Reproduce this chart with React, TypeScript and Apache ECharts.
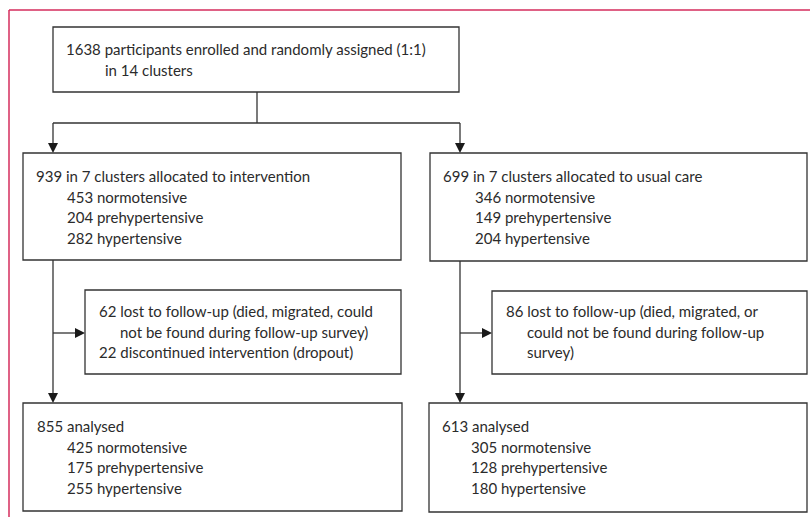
import React, { useEffect, useRef } from "react";
import * as echarts from "echarts";

// ---- Flowchart content ----
const enrolmentLines = ["1638 participants enrolled and randomly assigned (1:1)", "in 14 clusters"];
const interventionHead = "939 in 7 clusters allocated to intervention";
const interventionGroups = ["453 normotensive", "204 prehypertensive", "282 hypertensive"];
const usualCareHead = "699 in 7 clusters allocated to usual care";
const usualCareGroups = ["346 normotensive", "149 prehypertensive", "204 hypertensive"];
const interventionLost = ["62 lost to follow-up (died, migrated, could", "not be found during follow-up survey)", "22 discontinued intervention (dropout)"];
const interventionLostIndent = [false, true, false];
const usualCareLost = ["86 lost to follow-up (died, migrated, or", "could not be found during follow-up", "survey)"];
const usualCareLostIndent = [false, true, true];
const interventionAnalysedHead = "855 analysed";
const interventionAnalysedGroups = ["425 normotensive", "175 prehypertensive", "255 hypertensive"];
const usualCareAnalysedHead = "613 analysed";
const usualCareAnalysedGroups = ["305 normotensive", "128 prehypertensive", "180 hypertensive"];

const FONT = "Lato";
const FS = 15;
const TXT = "#2b2b2b";
const LINE = "#333333";
const FRAME = "#d42c5c";

function txt(text: string, x: number, y: number) {
  return {
    type: "text",
    style: { text, x, y, fill: TXT, fontSize: FS, fontFamily: FONT, verticalAlign: "middle", align: "left" },
  };
}
function box(x: number, y: number, w: number, h: number) {
  return {
    type: "rect",
    shape: { x, y, width: w, height: h },
    style: { fill: "#fff", stroke: LINE, lineWidth: 1.3 },
  };
}
function ln(x1: number, y1: number, x2: number, y2: number) {
  return { type: "line", shape: { x1, y1, x2, y2 }, style: { stroke: LINE, lineWidth: 1.3 } };
}
function arrowDown(x: number, tipY: number) {
  return {
    type: "polygon",
    shape: { points: [[x - 5, tipY - 10], [x + 5, tipY - 10], [x, tipY]] },
    style: { fill: "#1a1a1a" },
  };
}
function arrowRight(tipX: number, y: number) {
  return {
    type: "polygon",
    shape: { points: [[tipX - 10, y - 5], [tipX - 10, y + 5], [tipX, y]] },
    style: { fill: "#1a1a1a" },
  };
}

export default function App() {
  const ref = useRef<HTMLDivElement>(null);
  useEffect(() => {
    document.body.style.margin = "0";
    const chart = echarts.init(ref.current!, null, { renderer: "svg" });
    const LH = 20.6;
    const els: any[] = [];
    // frame
    els.push({ type: "line", shape: { x1: 9, y1: 10, x2: 810, y2: 10 }, style: { stroke: FRAME, lineWidth: 1.5 } });
    els.push({ type: "line", shape: { x1: 9, y1: 10, x2: 9, y2: 517 }, style: { stroke: FRAME, lineWidth: 1.5 } });

    // connectors
    els.push(ln(257, 92, 257, 123));
    els.push(ln(53, 123, 460, 123));
    els.push(ln(53, 123, 53, 145));
    els.push(ln(460, 123, 460, 145));
    els.push(arrowDown(53, 153));
    els.push(arrowDown(460, 153));
    els.push(ln(53, 260, 53, 395));
    els.push(arrowDown(53, 403));
    els.push(ln(460, 261, 460, 395));
    els.push(arrowDown(460, 403));
    els.push(ln(53, 333, 77, 333));
    els.push(arrowRight(85, 333));
    els.push(ln(460, 333, 484, 333));
    els.push(arrowRight(492, 333));

    // boxes
    els.push(box(53, 27, 406, 65));
    els.push(box(23, 153, 378, 107));
    els.push(box(430, 153, 377, 108));
    els.push(box(85, 290, 316, 84));
    els.push(box(492, 291, 315, 83));
    els.push(box(23, 403, 379, 108));
    els.push(box(429, 403, 378, 109));

    // texts
    els.push(txt(enrolmentLines[0], 66, 49));
    els.push(txt(enrolmentLines[1], 105, 70));

    els.push(txt(interventionHead, 36, 176));
    interventionGroups.forEach((t, i) => els.push(txt(t, 67, 176 + LH * (i + 1))));
    els.push(txt(usualCareHead, 443, 176));
    usualCareGroups.forEach((t, i) => els.push(txt(t, 475, 176 + LH * (i + 1))));

    interventionLost.forEach((t, i) => els.push(txt(t, interventionLostIndent[i] ? 120 : 99, 311 + LH * i)));
    usualCareLost.forEach((t, i) => els.push(txt(t, usualCareLostIndent[i] ? 527 : 506, 311 + LH * i)));

    els.push(txt(interventionAnalysedHead, 37, 426));
    interventionAnalysedGroups.forEach((t, i) => els.push(txt(t, 67, 426 + LH * (i + 1))));
    els.push(txt(usualCareAnalysedHead, 442, 426));
    usualCareAnalysedGroups.forEach((t, i) => els.push(txt(t, 471, 426 + LH * (i + 1))));

    chart.setOption({ animation: false, backgroundColor: "#fff", graphic: { elements: els } });
    return () => chart.dispose();
  }, []);
  return <div ref={ref} style={{ width: 810, height: 517 }} />;
}
